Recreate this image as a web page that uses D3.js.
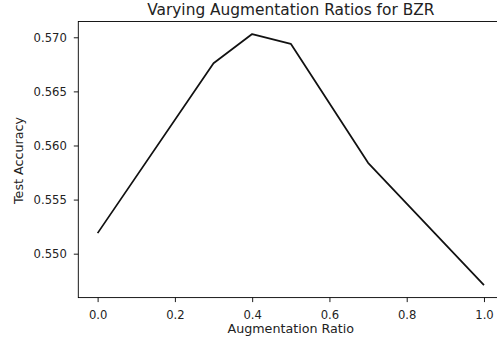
<!DOCTYPE html>
<html>
<head>
<meta charset="utf-8">
<script src="https://cdn.jsdelivr.net/npm/d3@7"></script>
<style>
  body { margin: 0; background: #fff; }
  text { font-family: "DejaVu Sans", sans-serif; fill: #222; }
</style>
</head>
<body>
<svg width="497" height="341"></svg>
<script>
'use strict';
// data
const ratios = [0.0, 0.3, 0.4, 0.5, 0.7, 1.0];
const accuracy = [0.5519, 0.5676, 0.5703, 0.5694, 0.5584, 0.5471];
const xTicks = [0.0, 0.2, 0.4, 0.6, 0.8, 1.0];
const yTicks = [0.550, 0.555, 0.560, 0.565, 0.570];

const svg = d3.select('svg');
const plot = { left: 78.3, right: 503.3, top: 21.5, bottom: 297.6 };

// matplotlib style 5% margins
function padded(vals) {
  const [lo, hi] = d3.extent(vals);
  const m = (hi - lo) * 0.05;
  return [lo - m, hi + m];
}

const x = d3.scaleLinear().domain(padded(ratios)).range([plot.left, plot.right]);
const y = d3.scaleLinear().domain(padded(accuracy)).range([plot.bottom, plot.top]);

const xAxis = svg.append('g')
    .attr('transform', `translate(0 ${plot.bottom})`)
    .call(d3.axisBottom(x).tickValues(xTicks).tickFormat(d3.format('.1f')).tickSize(4.5).tickPadding(8.5).tickSizeOuter(0));
const yAxis = svg.append('g')
    .attr('transform', `translate(${plot.left} 0)`)
    .call(d3.axisLeft(y).tickValues(yTicks).tickFormat(d3.format('.3f')).tickSize(4.5).tickPadding(7).tickSizeOuter(0));

[xAxis, yAxis].forEach(a => {
  a.select('.domain').remove();
  a.selectAll('.tick line').attr('stroke', '#000').attr('stroke-width', 0.9);
  a.selectAll('.tick text').attr('font-size', 11.6).attr('fill', '#222');
});

// spines
svg.append('rect')
    .attr('x', plot.left).attr('y', plot.top)
    .attr('width', plot.right - plot.left).attr('height', plot.bottom - plot.top)
    .attr('fill', 'none').attr('stroke', '#000').attr('stroke-width', 0.9);

const line = d3.line().x((d, i) => x(ratios[i])).y(d => y(d));
svg.append('path')
    .attr('d', line(accuracy))
    .attr('fill', 'none')
    .attr('stroke', '#111')
    .attr('stroke-width', 1.75)
    .attr('stroke-linejoin', 'round');

const cx = (plot.left + plot.right) / 2;
svg.append('text')
    .attr('x', cx).attr('y', 14.7)
    .attr('text-anchor', 'middle')
    .attr('font-size', 15.4)
    .text('Varying Augmentation Ratios for BZR');
svg.append('text')
    .attr('x', cx).attr('y', 333)
    .attr('text-anchor', 'middle')
    .attr('font-size', 12.7)
    .text('Augmentation Ratio');
svg.append('text')
    .attr('transform', `translate(22.6 ${(plot.top + plot.bottom) / 2 + 1}) rotate(-90)`)
    .attr('text-anchor', 'middle')
    .attr('font-size', 12.7)
    .text('Test Accuracy');
</script>
</body>
</html>
